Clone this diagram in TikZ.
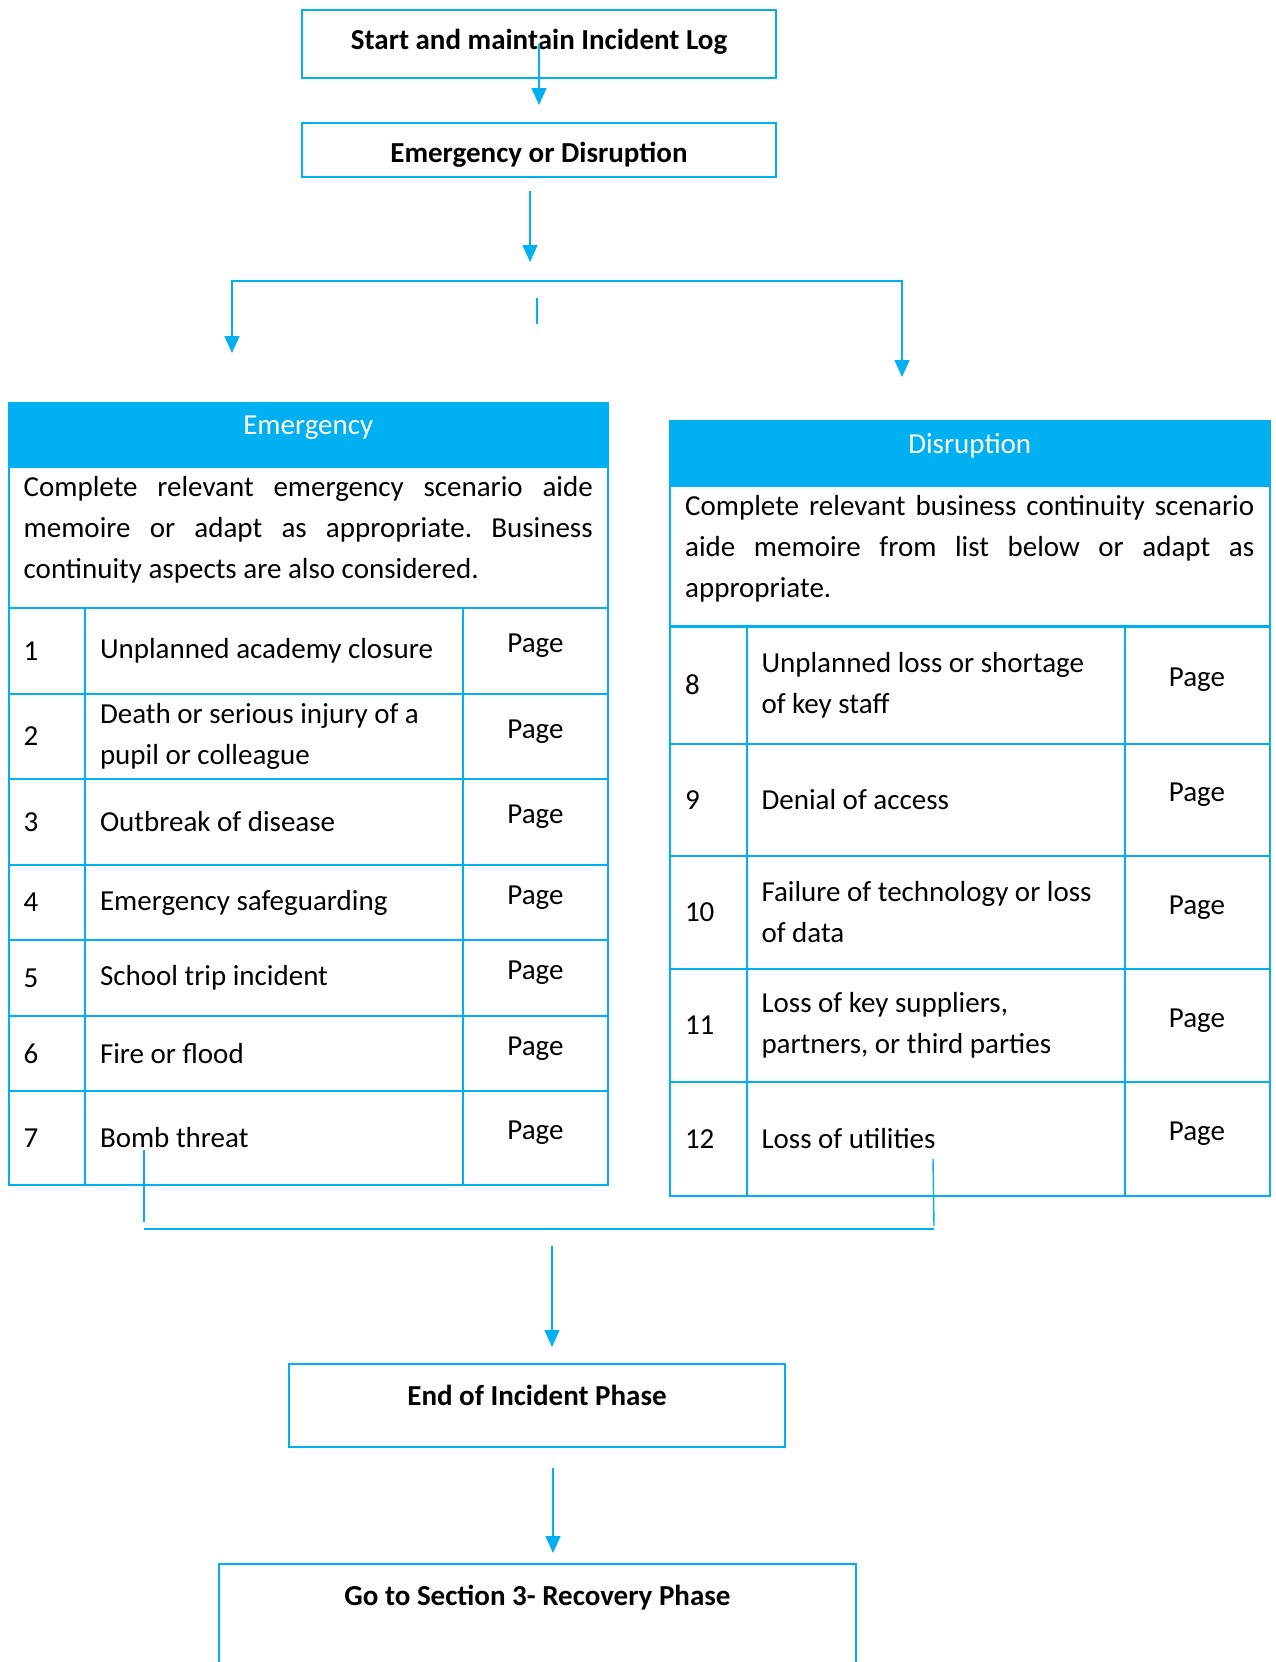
\documentclass[tikz,border=0pt]{standalone}
\usepackage{fontspec}
\setmainfont{Carlito}
\usetikzlibrary{positioning,arrows.meta}
\definecolor{planBlue}{RGB}{0,176,240}
\hyphenpenalty=10000
\frenchspacing

\begin{document}
\begin{tikzpicture}[x=1pt,y=-1pt,font=\fontsize{29}{41}\selectfont,
      stepbox/.style={draw=planBlue,line width=2.2pt,minimum width=474pt,align=flush center,font=\fontsize{29}{41}\selectfont\bfseries},
      head/.style={draw=planBlue,fill=planBlue,line width=2pt,text=white,anchor=north west,minimum width=599.5pt,minimum height=64pt,inner ysep=0pt,text depth=20pt,outer sep=0pt},
      desc/.style={draw=planBlue,line width=2pt,anchor=north west,minimum width=599.5pt,minimum height=141pt,outer sep=0pt},
      desctxt/.style={anchor=north west,text width=569pt,align=justify,inner sep=0pt},
      cell/.style={draw=planBlue,line width=2pt,inner xsep=15pt,inner ysep=0pt,outer sep=0pt,align=flush left},
      num/.style={cell,anchor=north west,text width=46.5pt},
      item/.style={cell,text width=348pt},
      pg/.style={cell,text width=115pt,align=flush center,text depth=15pt},
      conn/.style={draw=planBlue,line width=1.4pt},
      tip/.style={-{Triangle[length=17pt,width=15pt]}}]
    \useasboundingbox (0,0) rectangle (1276,1662);
    \clip (0,0) rectangle (1276,1662);

    \node[stepbox,minimum height=68pt,text depth=10pt] (logbox) at (539,44) {Start and maintain Incident Log};
    \node[stepbox,minimum height=54pt,text height=30pt] (choice) at (539,150) {Emergency or Disruption};

    \node[head] (ehead) at (8.5,403) {Emergency};
    \node[desc] (edesc) at (8.5,467) {};
    \node[desctxt] (edtext) at (23.5,476) {Complete relevant emergency scenario aide memoire or adapt as appropriate. Business continuity aspects are also considered.};
    \foreach \n/\ytop/\h/\txt in {1/608/86/{Unplanned academy closure},
        2/694/85/{Death or serious injury of a\\pupil or colleague},
        3/779/86/{Outbreak of disease},
        4/865/75/{Emergency safeguarding},
        5/940/76/{School trip incident},
        6/1016/75/{Fire or flood},
        7/1091/94/{Bomb threat}}{
      \node[num,minimum height=\h pt] (en\n) at (8.5,\ytop) {\n};
      \node[item,minimum height=\h pt,right=0pt of en\n] (et\n) {\txt};
      \node[pg,minimum height=\h pt,right=0pt of et\n] (ep\n) {Page};
    }

    \node[head] (dhead) at (670,421) {Disruption};
    \node[desc] (ddesc) at (670,486) {};
    \node[desctxt] (ddtext) at (685,495) {Complete relevant business continuity scenario aide memoire from list below or adapt as appropriate.};
    \foreach \n/\ytop/\h/\txt in {8/626/118/{Unplanned loss or shortage\\of key staff},
        9/744/112/{Denial of access},
        10/856/113/{Failure of technology or loss\\of data},
        11/969/113/{Loss of key suppliers,\\partners, or third parties},
        12/1082/114/{Loss of utilities}}{
      \node[num,minimum height=\h pt] (dn\n) at (670,\ytop) {\n};
      \node[item,minimum height=\h pt,right=0pt of dn\n] (dt\n) {\txt};
      \node[pg,minimum height=\h pt,right=0pt of dt\n] (dp\n) {Page};
    }

    \node[stepbox,minimum width=496pt,minimum height=83pt,text depth=21pt] (endphase) at (537,1405.5) {End of Incident Phase};
    \node[stepbox,minimum width=637pt,minimum height=140pt,text depth=78pt] (recovery) at (537.5,1634) {Go to Section 3- Recovery Phase};

    \coordinate (c1) at (539,105);
    \coordinate (c2a) at (530,191);
    \coordinate (c2b) at (530,262);
    \coordinate (sl) at (232,281);
    \coordinate (sr) at (902,281);
    \coordinate (el) at (232,353);
    \coordinate (dr) at (902,377);
    \coordinate (m1) at (537,298);
    \coordinate (m2) at (537,324);
    \coordinate (e7a) at (144,1150);
    \coordinate (e7b) at (144,1222);
    \coordinate (d12a) at (933,1159);
    \coordinate (d12b) at (934,1226);
    \coordinate (ja) at (144,1229);
    \coordinate (jb) at (934,1229);
    \coordinate (c3a) at (552,1246);
    \coordinate (c3b) at (552,1347);
    \coordinate (c4a) at (553,1468);
    \coordinate (c4b) at (553,1553);

    \draw[conn,tip] (logbox.center) -- (c1);
    \draw[conn,tip] (c2a) -- (c2b);
    \draw[conn,{Triangle[length=17pt,width=15pt]}-{Triangle[length=17pt,width=15pt]}] (el) -- (sl) -- (sr) -- (dr);
    \draw[conn] (m1) -- (m2);
    \draw[conn] (e7a) -- (e7b);
    \draw[conn] (d12a) -- (d12b);
    \draw[conn] (ja) -- (jb);
    \draw[conn,tip] (c3a) -- (c3b);
    \draw[conn,tip] (c4a) -- (c4b);
  \end{tikzpicture}
\end{document}
